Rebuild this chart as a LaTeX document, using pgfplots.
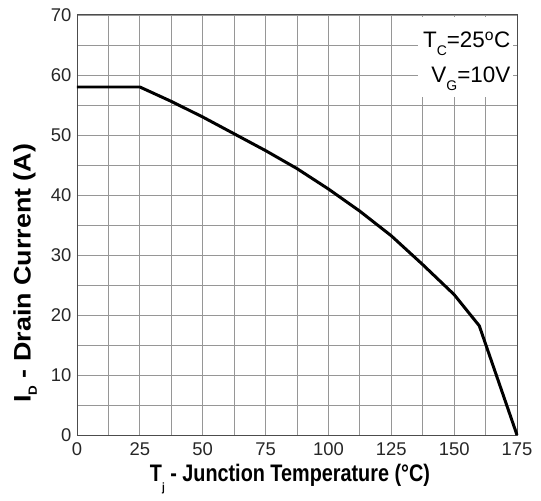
\documentclass[border=0pt]{standalone}
\usepackage{pgfplots}
\pgfplotsset{compat=1.18}
\usepackage{graphicx}
\usepackage{fontspec}
\setmainfont{Liberation Sans}
\usetikzlibrary{calc}
\definecolor{gridgray}{RGB}{150,150,150}
\newcommand{\sub}[3][0.5ex]{\raisebox{-#1}{\fontsize{#2}{#2}\selectfont #3}}

\begin{document}
\begin{tikzpicture}
\begin{axis}[
    scale only axis,
    width=440bp, height=420bp,
    xmin=0, xmax=175, ymin=0, ymax=70,
    xtick={0,25,...,175},
    ytick={0,10,...,70},
    minor xtick={12.5,37.5,...,162.5},
    minor ytick={5,15,...,65},
    grid=both,
    major grid style={gridgray, line width=0.9pt},
    minor grid style={gridgray, line width=0.9pt},
    axis line style={black!70, line width=1pt},
    major tick length=0pt, minor tick length=0pt,
    tick label style={font=\fontsize{18.5}{20}\selectfont, text=black!85},
    /pgf/number format/assume math mode=true,
    xticklabel style={yshift=-4pt},
    yticklabel style={xshift=-2pt},
    xlabel={\resizebox{280bp}{\height}{\bfseries T\sub[0.8ex]{12}{j} - Junction Temperature (°C)}},
    ylabel={\resizebox{259bp}{\height}{\bfseries I\sub{12}{D} - Drain Current (A)}},
    label style={font=\fontsize{24}{26}\selectfont},
    xlabel style={at={(axis description cs:0.484,0)}, anchor=center, yshift=-44bp},
    ylabel style={at={(axis description cs:0,0.385)}, anchor=center, yshift=52bp},
    clip=false,
]
\addplot[black, line width=3pt] coordinates {
    (0,58) (25,58) (37.5,55.6) (50,53) (62.5,50.2) (75,47.4) (87.5,44.4)
    (100,41) (112.5,37.3) (125,33.2) (137.5,28.4) (150,23.4) (160,18.2) (175,0)
};
\fill[white] (axis cs:135.6,56.4) rectangle (axis cs:173.4,69.6);
\node[anchor=base east, inner sep=0pt, font=\fontsize{22.5}{24}\selectfont]
    at (axis cs:172.4,64.5) {T\sub[8bp]{14}{C}=25\textsuperscript{o}C};
\node[anchor=base east, inner sep=0pt, font=\fontsize{22.5}{24}\selectfont]
    at (axis cs:172.4,58.7) {V\sub[8bp]{14}{G}=10V};
\end{axis}
\pgfresetboundingbox
\useasboundingbox ($(current axis.south west)+(-77bp,-66bp)$) rectangle ($(current axis.north east)+(24bp,15bp)$);
\end{tikzpicture}
\end{document}
